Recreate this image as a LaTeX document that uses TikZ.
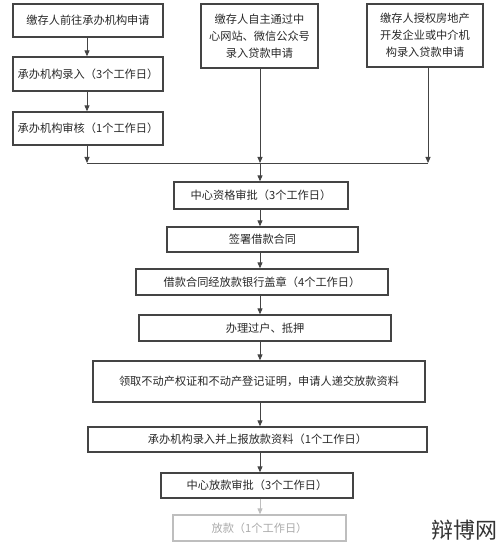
\documentclass[tikz,border=0pt]{standalone}
\usepackage{fontspec}
\newfontfamily\cjk{Noto Sans CJK SC}
\usepackage{tikz}
\usetikzlibrary{positioning,arrows.meta,calc}
\definecolor{boxline}{RGB}{68,68,68}
\definecolor{boxtext}{RGB}{40,40,40}
\definecolor{fadeline}{RGB}{190,190,190}
\definecolor{fadetext}{RGB}{170,170,170}

\begin{document}
\begin{tikzpicture}[
    x=1pt, y=-1pt,
    every node/.style={font=\cjk\fontsize{11.2}{17}\selectfont, text=boxtext},
    stepbox/.style={draw=boxline, line width=1.3pt, inner sep=0pt, align=center},
    fadebox/.style={draw=fadeline, line width=1.3pt, inner sep=0pt, align=center, text=fadetext},
    arrow/.style={-{Triangle[length=6pt,width=5pt]}, boxline, line width=0.9pt}
]
\useasboundingbox (0,0) rectangle (500,548);

% trois voies de demande
\node[stepbox, minimum width=150pt, minimum height=33pt] (apply) at (88, 20.5) {缴存人前往承办机构申请};
\node[stepbox, minimum width=150pt, minimum height=34pt] (entry) at (88, 74) {承办机构录入（3个工作日）};
\node[stepbox, minimum width=150pt, minimum height=33pt] (check) at (88, 128.5) {承办机构审核（1个工作日）};
\node[stepbox, minimum width=117pt, minimum height=64pt] (online) at (259.5, 36) {缴存人自主通过中\\心网站、微信公众号\\录入贷款申请};
\node[stepbox, minimum width=116pt, minimum height=63pt] (agent) at (425, 35.5) {缴存人授权房地产\\开发企业或中介机\\构录入贷款申请};

% jonction
\coordinate (jl) at (87, 163);
\coordinate (mid) at (260, 163);
\coordinate (jr) at (428, 163);

\draw[arrow] (apply.south -| jl) -- (entry.north -| jl);
\draw[arrow] (entry.south -| jl) -- (check.north -| jl);
\draw[arrow] (check.south -| jl) -- (jl);
\draw[arrow] (online.south -| mid) -- (mid);
\draw[arrow] (agent.south -| jr) -- (jr);
\draw[boxline, line width=0.9pt] (jl) -- (jr);

% suite des etapes
\node[stepbox, minimum width=174pt, minimum height=27pt] (approve) at (261, 195.5) {中心资格审批（3个工作日）};
\node[stepbox, minimum width=191pt, minimum height=25pt] (sign) at (262.5, 239.5) {签署借款合同};
\node[stepbox, minimum width=252pt, minimum height=26pt] (stamp) at (262, 282) {借款合同经放款银行盖章（4个工作日）};
\node[stepbox, minimum width=252pt, minimum height=26pt] (transfer) at (265, 328) {办理过户、抵押};
\node[stepbox, minimum width=332pt, minimum height=41pt] (docs) at (259, 381.5) {领取不动产权证和不动产登记证明，申请人递交放款资料};
\node[stepbox, minimum width=339pt, minimum height=25pt] (report) at (257.5, 439.5) {承办机构录入并上报放款资料（1个工作日）};
\node[stepbox, minimum width=192pt, minimum height=25pt] (loanok) at (257, 485.5) {中心放款审批（3个工作日）};
\node[fadebox, minimum width=173pt, minimum height=26pt] (release) at (259.5, 528) {放款（1个工作日）};

\draw[arrow] (mid) -- (approve.north -| mid);
\draw[arrow] (approve.south -| mid) -- (sign.north -| mid);
\draw[arrow] (sign.south -| mid) -- (stamp.north -| mid);
\draw[arrow] (stamp.south -| mid) -- (transfer.north -| mid);
\draw[arrow] (transfer.south -| mid) -- (docs.north -| mid);
\draw[arrow] (docs.south -| mid) -- (report.north -| mid);
\draw[arrow] (report.south -| mid) -- (loanok.north -| mid);
\draw[arrow, fadeline] (loanok.south -| mid) -- (release.north -| mid);

% filigrane
\node[font=\cjk\fontsize{22}{24}\selectfont, text=black!80, anchor=east] (mark) at (501, 530) {辩博网};

\end{tikzpicture}
\end{document}
